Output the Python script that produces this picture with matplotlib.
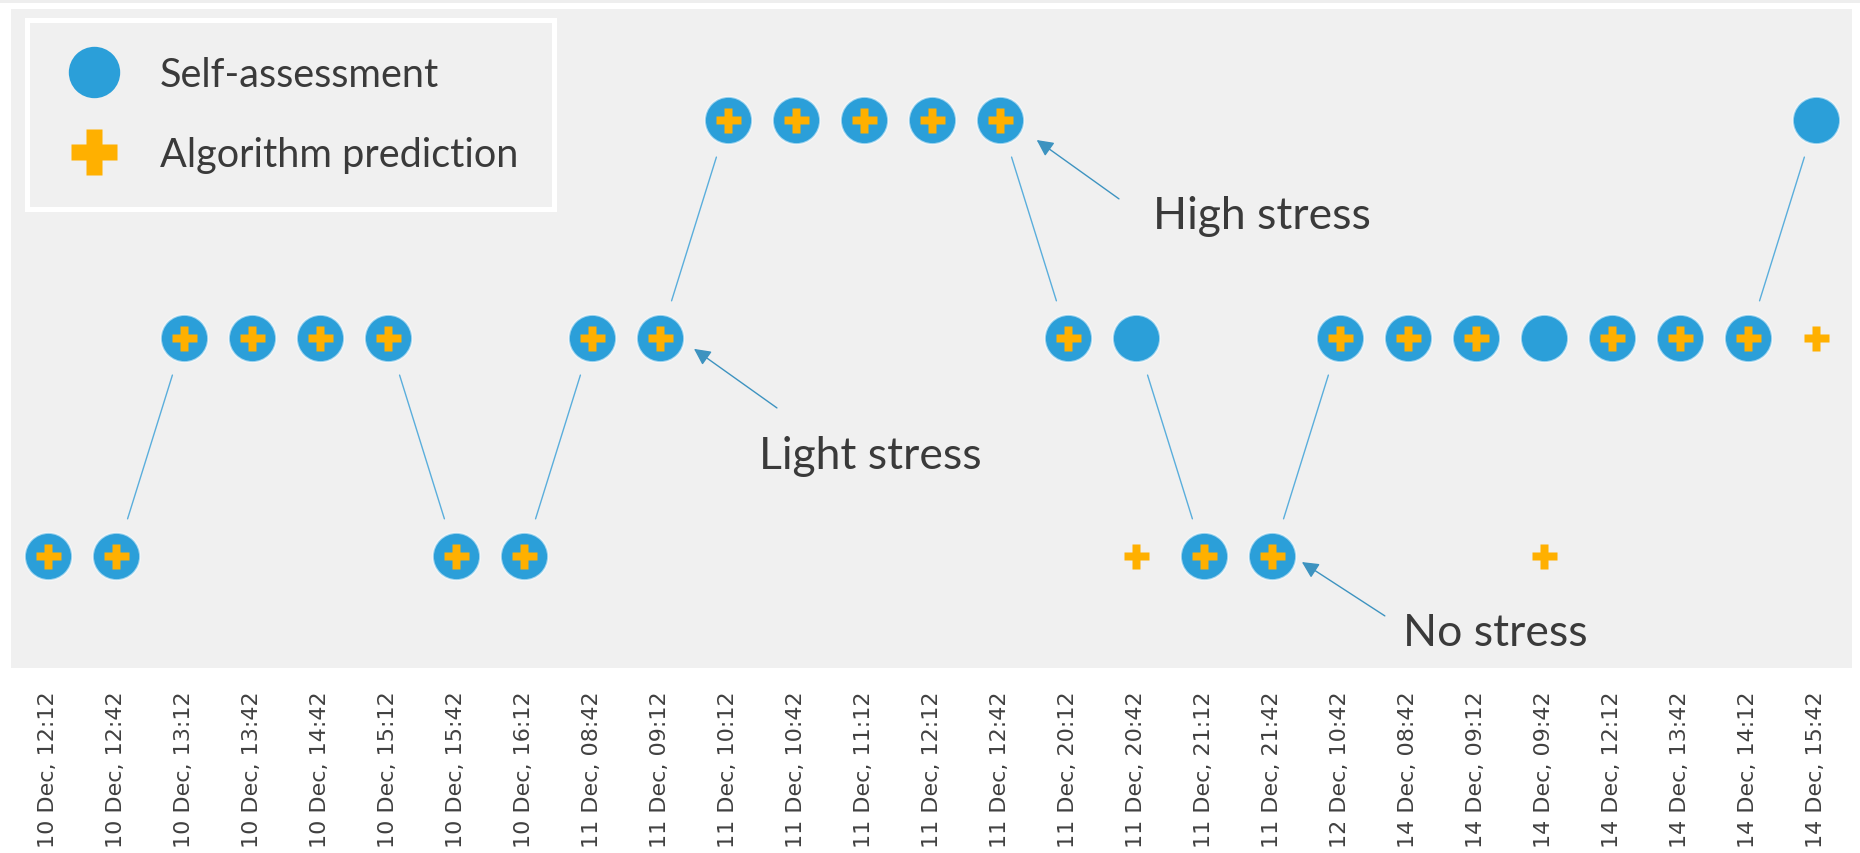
import matplotlib
matplotlib.use("Agg")
import matplotlib.pyplot as plt
from matplotlib.lines import Line2D
from matplotlib.patches import Rectangle

# ---- data -------------------------------------------------------------
time_labels = [
    "10 Dec, 12:12", "10 Dec, 12:42", "10 Dec, 13:12", "10 Dec, 13:42",
    "10 Dec, 14:42", "10 Dec, 15:12", "10 Dec, 15:42", "10 Dec, 16:12",
    "11 Dec, 08:42", "11 Dec, 09:12", "11 Dec, 10:12", "11 Dec, 10:42",
    "11 Dec, 11:12", "11 Dec, 12:12", "11 Dec, 12:42", "11 Dec, 20:12",
    "11 Dec, 20:42", "11 Dec, 21:12", "11 Dec, 21:42", "12 Dec, 10:42",
    "14 Dec, 08:42", "14 Dec, 09:12", "14 Dec, 09:42", "14 Dec, 12:12",
    "14 Dec, 13:42", "14 Dec, 14:12", "14 Dec, 15:42",
]
# stress level: 0 = no stress, 1 = light stress, 2 = high stress
self_assessment = [0, 0, 1, 1, 1, 1, 0, 0, 1, 1, 2, 2, 2, 2, 2, 1, 1, 0, 0, 1, 1, 1, 1, 1, 1, 1, 2]
algorithm_prediction = [0, 0, 1, 1, 1, 1, 0, 0, 1, 1, 2, 2, 2, 2, 2, 1, 0, 0, 0, 1, 1, 1, 0, 1, 1, 1, 1]

level_names = ["No stress", "Light stress", "High stress"]

# ---- style --------------------------------------------------------------
BLUE = "#2b9fd9"
LINE_BLUE = "#5aaedc"
ARROW_BLUE = "#3d93c0"
ORANGE = "#ffb000"
PANEL = "#f0f0f0"
TEXT = "#3a3a3a"
TICK = "#404040"
TEXT_FONT = ["Lato", "DejaVu Sans"]

W, H = 1860, 854
fig = plt.figure(figsize=(W / 100, H / 100), dpi=100, facecolor="white")

# thin grey strip along the top edge of the canvas
fig.patches.append(Rectangle((0, 1 - 4 / H), 1, 4 / H, transform=fig.transFigure,
                             facecolor="#eeeeee", edgecolor="none", zorder=0))

ax = fig.add_axes([11 / W, (H - 669) / H, (1852 - 11) / W, (669 - 10) / H])
ax.set_facecolor(PANEL)
for s in ax.spines.values():
    s.set_visible(False)

x = list(range(len(time_labels)))

# connecting segments of the self-assessment series, with gaps around markers
for i in range(len(x) - 1):
    if self_assessment[i] != self_assessment[i + 1]:
        ax.annotate("", xy=(x[i + 1], self_assessment[i + 1]),
                    xytext=(x[i], self_assessment[i]),
                    arrowprops=dict(arrowstyle="-", color=LINE_BLUE, lw=1.0,
                                    shrinkA=28, shrinkB=28), zorder=1)

ax.plot(x, self_assessment, linestyle="none", marker="o", markersize=34,
        markerfacecolor=BLUE, markeredgecolor=(1, 1, 1, 0.55),
        markeredgewidth=1.5, zorder=3)
ax.plot(x, algorithm_prediction, linestyle="none", marker="P", markersize=18,
        markerfacecolor=ORANGE, markeredgecolor="none", zorder=4)

ax.set_xlim(-0.544, 26.53)
ax.set_ylim(-0.514, 2.509)
ax.set_yticks([])
ax.set_xticks(x)
ax.set_xticklabels(time_labels, rotation=90, fontsize=16, color=TICK,
                   family="DejaVu Sans")
ax.tick_params(axis="x", length=0, pad=16)

# level annotations: (text position, arrow tail, arrow tip) in data units
annotations = [
    ("High stress", (16.25, 1.505), (15.75, 1.638), (14.54, 1.908)),
    ("Light stress", (10.46, 0.404), (10.72, 0.679), (9.50, 0.950)),
    ("No stress", (19.93, -0.408), (19.66, -0.275), (18.44, -0.028)),
]
for label, txt_pos, tail, tip in annotations:
    ax.text(txt_pos[0], txt_pos[1], label, fontsize=32, color=TEXT,
            family=TEXT_FONT, ha="left", va="baseline", zorder=5)
    ax.annotate("", xy=tip, xytext=tail,
                arrowprops=dict(arrowstyle="-|>,head_length=10,head_width=5",
                                mutation_scale=1, color=ARROW_BLUE, lw=1.0,
                                shrinkA=0, shrinkB=0), zorder=5)

handles = [
    Line2D([], [], linestyle="none", marker="o", markersize=37,
           markerfacecolor=BLUE, markeredgecolor="none"),
    Line2D([], [], linestyle="none", marker="P", markersize=33,
           markerfacecolor=ORANGE, markeredgecolor="none"),
]
leg = ax.legend(handles, ["Self-assessment", "Algorithm prediction"],
                loc="upper left", bbox_to_anchor=(16 / 1841, 1 - 11 / 659),
                prop={"family": TEXT_FONT, "size": 28.5}, labelcolor=TEXT,
                frameon=True, fancybox=False, facecolor=PANEL, edgecolor="white",
                framealpha=1, borderpad=0.9, labelspacing=1.1,
                handlelength=1.6, handletextpad=0.85, borderaxespad=0)
leg.get_frame().set_linewidth(3.6)

fig.savefig("out.png", dpi=100, facecolor="white")
